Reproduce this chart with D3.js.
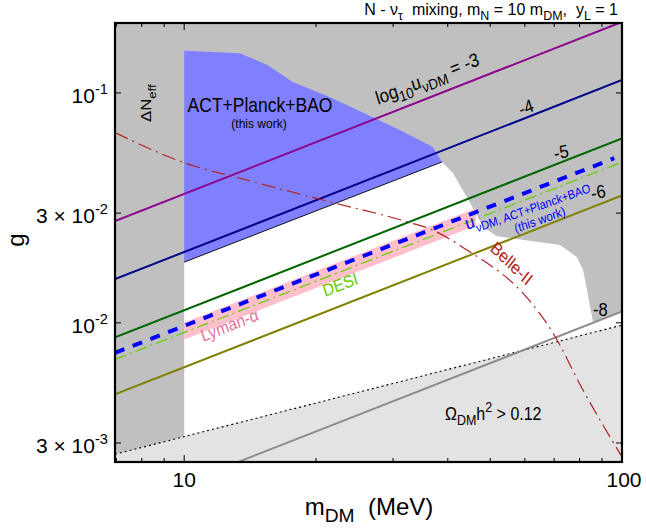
<!DOCTYPE html>
<html lang="en">
<head>
    <meta charset="UTF-8">
    <title>g vs m_DM</title>
    <script src="https://d3js.org/d3.v7.min.js"></script>
    <style>
        body { margin: 0; background: #fff; }
        svg { display: block; font-family: "Liberation Sans", Arial, Helvetica, sans-serif; }
        text { white-space: pre; }
    </style>
</head>
<body>
    <svg id="chart"></svg>

    <script>
        // axis settings
        const xDomain = [6.95, 100];
        const yDomain = [0.00248, 0.2015];
        const xMajorTicks = [10, 100];
        const xMinorTicks = [7, 8, 9, 20, 30, 40, 50, 60, 70, 80, 90];
        const yTicks = [0.1, 0.03, 0.01, 0.003];
        const yTickText = [["10", "-1"], ["3 × 10", "-2"], ["10", "-2"], ["3 × 10", "-3"]];

        // log10 u_vDM contours: g at m = 6.95 and m = 100
        const uLabels = ["-3", "-4", "-5", "-6", "-8"];
        const uColors = ["#8b008b", "#00008b", "#006400", "#808000", "#8c8c8c"];
        const uLineM = [6.95, 100];
        const uLineGStart = [0.0277, 0.01548, 0.00864, 0.00488, 0.00153];
        const uLineGEnd = [0.2037, 0.1138, 0.0634, 0.0358, 0.0112];

        // ACT+Planck+BAO fit line and DESI line
        const actLineM = [6.95, 96];
        const actLineG = [0.0074, 0.0520];
        const desiLineM = [6.95, 98.5];
        const desiLineG = [0.00693, 0.0494];

        // Lyman-alpha band
        const lymanM = [10, 46.4];
        const lymanUpper = [0.01003, 0.0315];
        const lymanLower = [0.00845, 0.0265];

        // ACT+Planck+BAO excluded region (this work)
        const actRegionM = [10, 13.4, 15.5, 17.7, 21.5, 31.1, 37.0, 38.8, 10];
        const actRegionG = [0.1525, 0.149, 0.1324, 0.1117, 0.096, 0.069, 0.0582, 0.0501, 0.01836];

        // allowed (white) region
        const allowedM = [10, 38.8, 41.1, 45.0, 48.2, 51.8, 72.2, 78.9, 81.5, 83.2, 85.9, 100, 100, 10];
        const allowedG = [0.01836, 0.0501, 0.0448, 0.0332, 0.0261, 0.0238, 0.0218, 0.0193, 0.01696, 0.01388, 0.0100, 0.0112, 0.00977, 0.0032];

        // relic abundance line
        const relicM = [6.95, 100];
        const relicG = [0.00268, 0.00977];

        // Belle-II
        const belleM = [6.95, 10, 13.9, 21.5, 32.3, 37.0, 45.0, 49.2, 58.5, 69.6, 81.5, 99.5];
        const belleG = [0.0672, 0.0497, 0.0418, 0.0336, 0.0275, 0.0253, 0.0203, 0.0182, 0.01388, 0.00902, 0.00509, 0.00265];

        const W = 646, H = 528;
        const plot = { left: 115, top: 23, right: 622, bottom: 462 };
        const S = 1.12; // vertical text stretch of the annotations

        const svg = d3.select("#chart").attr("width", W).attr("height", H);

        const x = d3.scaleLog().domain(xDomain).range([plot.left, plot.right]);
        const y = d3.scaleLog().domain(yDomain).range([plot.bottom, plot.top]);

        svg.append("defs").append("clipPath").attr("id", "clip")
            .append("rect")
            .attr("x", plot.left).attr("y", plot.top)
            .attr("width", plot.right - plot.left).attr("height", plot.bottom - plot.top);

        const area = svg.append("g").attr("clip-path", "url(#clip)");
        const zip = (ms, gs) => ms.map((m, i) => [m, gs[i]]);
        const line = d3.line().x(d => x(d[0])).y(d => y(d[1]));

        // background: excluded (dark gray)
        area.append("rect")
            .attr("x", plot.left).attr("y", plot.top)
            .attr("width", plot.right - plot.left).attr("height", plot.bottom - plot.top)
            .attr("fill", "#c0c0c0");

        area.append("path")
            .attr("d", line(zip(allowedM, allowedG)) + "Z")
            .attr("fill", "#fff");

        // relic region below dotted line
        const relicPoly = zip(relicM, relicG).concat([[xDomain[1], yDomain[0]], [xDomain[0], yDomain[0]]]);
        area.append("path")
            .attr("d", line(relicPoly) + "Z")
            .attr("fill", "#e3e3e3");

        // Lyman-alpha band
        const band = zip(lymanM, lymanUpper).concat(zip(lymanM, lymanLower).reverse());
        area.append("path")
            .attr("d", line(band) + "Z")
            .attr("fill", "#ffc0cb");

        // ACT+Planck+BAO region
        area.append("path")
            .attr("d", line(zip(actRegionM, actRegionG)) + "Z")
            .attr("fill", "#8080ff");
        area.append("path")
            .attr("d", line([[actRegionM[8], actRegionG[8]], [actRegionM[7], actRegionG[7]]]))
            .attr("fill", "none").attr("stroke", "#000").attr("stroke-width", 0.9);

        // relic dotted line
        area.append("path")
            .attr("d", line(zip(relicM, relicG)))
            .attr("fill", "none").attr("stroke", "#000")
            .attr("stroke-width", 1.1).attr("stroke-dasharray", "2,3");

        // u contours
        uLabels.forEach((lab, i) => {
            area.append("path")
                .attr("d", line([[uLineM[0], uLineGStart[i]], [uLineM[1], uLineGEnd[i]]]))
                .attr("fill", "none")
                .attr("stroke", uColors[i])
                .attr("stroke-width", 2);
        });

        // DESI
        area.append("path")
            .attr("d", line(zip(desiLineM, desiLineG)))
            .attr("fill", "none").attr("stroke", "#66cc00")
            .attr("stroke-width", 1.2).attr("stroke-dasharray", "12,4,2,4");

        // ACT+Planck+BAO line
        area.append("path")
            .attr("d", line(zip(actLineM, actLineG)))
            .attr("fill", "none").attr("stroke", "#0000ff")
            .attr("stroke-width", 4).attr("stroke-dasharray", "10,9");

        // Belle-II
        area.append("path")
            .attr("d", line.curve(d3.curveMonotoneX)(zip(belleM, belleG)))
            .attr("fill", "none").attr("stroke", "#b22222")
            .attr("stroke-width", 1.2).attr("stroke-dasharray", "14,5,2,5");
        line.curve(d3.curveLinear);

        // frame and ticks
        const axes = svg.append("g").attr("stroke", "#000");
        xMajorTicks.concat(xMinorTicks).forEach(m => {
            const len = xMajorTicks.includes(m) ? 7 : 4;
            axes.append("line").attr("x1", x(m)).attr("x2", x(m))
                .attr("y1", plot.bottom).attr("y2", plot.bottom - len);
            axes.append("line").attr("x1", x(m)).attr("x2", x(m))
                .attr("y1", plot.top).attr("y2", plot.top + len);
        });
        yTicks.forEach(g => {
            axes.append("line").attr("x1", plot.left).attr("x2", plot.left + 6)
                .attr("y1", y(g)).attr("y2", y(g));
            axes.append("line").attr("x1", plot.right).attr("x2", plot.right - 6)
                .attr("y1", y(g)).attr("y2", y(g));
        });
        svg.append("rect")
            .attr("x", plot.left).attr("y", plot.top)
            .attr("width", plot.right - plot.left).attr("height", plot.bottom - plot.top)
            .attr("fill", "none").attr("stroke", "#000").attr("stroke-width", 2.2);

        // text helper: parts = [[text, kind]], kind "sub" / "sup" / undefined
        function label(px, py, angle, parts, size, opts = {}) {
            const st = opts.s || S;
            const v = angle * Math.PI / 180;
            const a = Math.atan2(Math.sin(v) / st, Math.cos(v)) * 180 / Math.PI;
            const t = svg.append("g")
                .attr("transform", `translate(${px},${py}) scale(1,${st}) rotate(${a})`)
                .append("text")
                .attr("font-size", size)
                .attr("fill", opts.fill || "#000")
                .attr("text-anchor", opts.anchor || "start");
            let shift = 0;
            parts.forEach(([s, kind]) => {
                const target = kind === "sub" ? 0.3 * size : kind === "sup" ? -0.42 * size : 0;
                const fs = kind ? size * (opts.small || 0.78) : size;
                t.append("tspan").attr("dy", target - shift).attr("font-size", fs).text(s);
                shift = target;
            });
            return t;
        }

        // tick labels
        xMajorTicks.forEach(m => label(x(m) + (m === 100 ? 2 : 0), 487, 0, [[String(m)]], 21, { anchor: "middle", s: 1 }));
        yTicks.forEach((g, i) => label(108, y(g) + 10, 0, [[yTickText[i][0]], [yTickText[i][1], "sup"]], 21, { anchor: "end", s: 1, small: 0.7 }));

        // axis titles
        label(369, 515, 0, [["m"], ["DM", "sub"], ["  (MeV)"]], 24, { anchor: "middle", s: 1, small: 0.8 });
        label(24, 240, -90, [["g"]], 24, { anchor: "middle", s: 1 });
        label(618, 15, 0, [["N - ν"], ["τ", "sub"], ["  mixing, m"], ["N", "sub"], [" = 10 m"], ["DM", "sub"], [",  y"], ["L", "sub"], [" = 1"]], 16, { anchor: "end", s: 1 });

        // annotations
        label(151, 122, -90, [["ΔN"], ["eff", "sub"]], 15);
        label(260, 112, 0, [["ACT+Planck+BAO"]], 17.5, { anchor: "middle" });
        label(259, 128, 0, [["(this work)"]], 12, { anchor: "middle" });
        label(378, 105, -21.5, [["log"], ["10", "sub"], ["u"], ["νDM", "sub"], [" = -3"]], 17);
        label(521, 116, -21.5, [["-4"]], 16.5);
        label(555, 160, -12, [["-5"]], 16.5);
        label(592, 200, -12, [["-6"]], 16.5);
        label(593, 316, 0, [["-8"]], 16.5);
        label(467, 230, -19.5, [["u", null], ["νDM, ACT+Planck+BAO", "sub"]], 16.5, { fill: "#0000ff", small: 0.67 });
        label(541, 224, -19.5, [["(this work)"]], 11.5, { fill: "#0000ff", anchor: "middle" });
        label(325, 297, -21.5, [["DESI"]], 15.5, { fill: "#66cc00" });
        label(203, 342, -21.5, [["Lyman-α"]], 15.5, { fill: "#e5739a" });
        label(508, 268, 44, [["Belle-II"]], 16, { fill: "#b22222", anchor: "middle" });
        label(445, 420, 0, [["Ω"], ["DM", "sub"], ["h"], ["2", "sup"], [" > 0.12"]], 16);
    </script>
</body>
</html>
